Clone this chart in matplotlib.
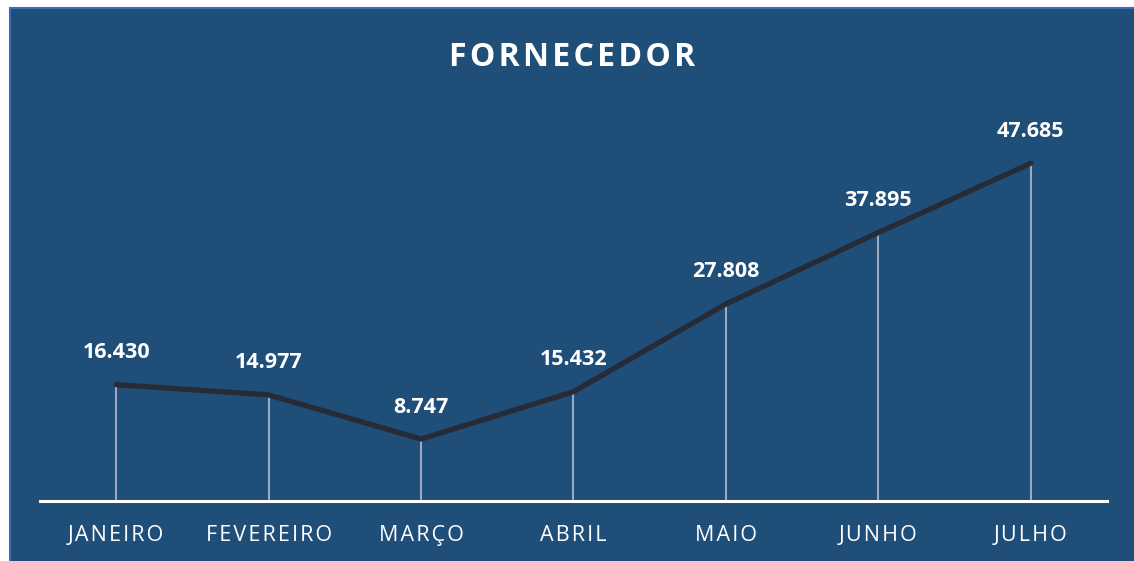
import numpy as np
from matplotlib import pyplot as plt
from matplotlib.patches import Rectangle

# Chart data
months = ['JANEIRO', 'FEVEREIRO', 'MARÇO', 'ABRIL', 'MAIO', 'JUNHO', 'JULHO']
values = [16430, 14977, 8747, 15432, 27808, 37895, 47685]
labels = ['16.430', '14.977', '8.747', '15.432', '27.808', '37.895', '47.685']

bg = '#1F4E79'
W, H = 1134, 561

fig = plt.figure(figsize=(W / 100, H / 100), dpi=100)
fig.patch.set_facecolor('white')
# blue panel with a slightly lighter border
fig.patches.append(Rectangle((10 / W, -0.05), 1, 1.05 - 8 / H, transform=fig.transFigure,
                             facecolor=bg, edgecolor='#3A6CC0', linewidth=1.5, zorder=-5))

ax = fig.add_axes([40 / W, 1 - 501 / H, 1067 / W, 425 / H])
ax.set_facecolor('none')
x = np.arange(len(months))
ax.set_xlim(-0.5, len(months) - 0.5)
ax.set_ylim(0, 60000)

ax.vlines(x, 0, values, color='#9DA9C0', linewidth=1.5, zorder=2)
ax.plot(x, values, color='#262B35', linewidth=3.8, solid_capstyle='round', zorder=3)

for xi, v, lab in zip(x, values, labels):
    ax.annotate(lab, (xi, v), xytext=(0, 15.5), textcoords='offset points',
                ha='center', va='bottom', color='white', fontsize=15.5,
                fontweight='bold', family='Open Sans')

for s in ['top', 'right', 'left']:
    ax.spines[s].set_visible(False)
ax.spines['bottom'].set_color('white')
ax.spines['bottom'].set_linewidth(2.2)
ax.set_yticks([])
ax.set_xticks(x)
ax.set_xticklabels(['\u200a'.join(m) for m in months], color='white',
                   fontsize=15.5, family='Open Sans')
ax.tick_params(axis='x', length=0, pad=17)

fig.text(572 / W, 1 - 57 / H, '\u200a'.join('FORNECEDOR'), ha='center', va='center',
         color='white', fontsize=23, fontweight='bold', family='Open Sans')

fig.savefig('out.png', dpi=100, facecolor=fig.get_facecolor())
